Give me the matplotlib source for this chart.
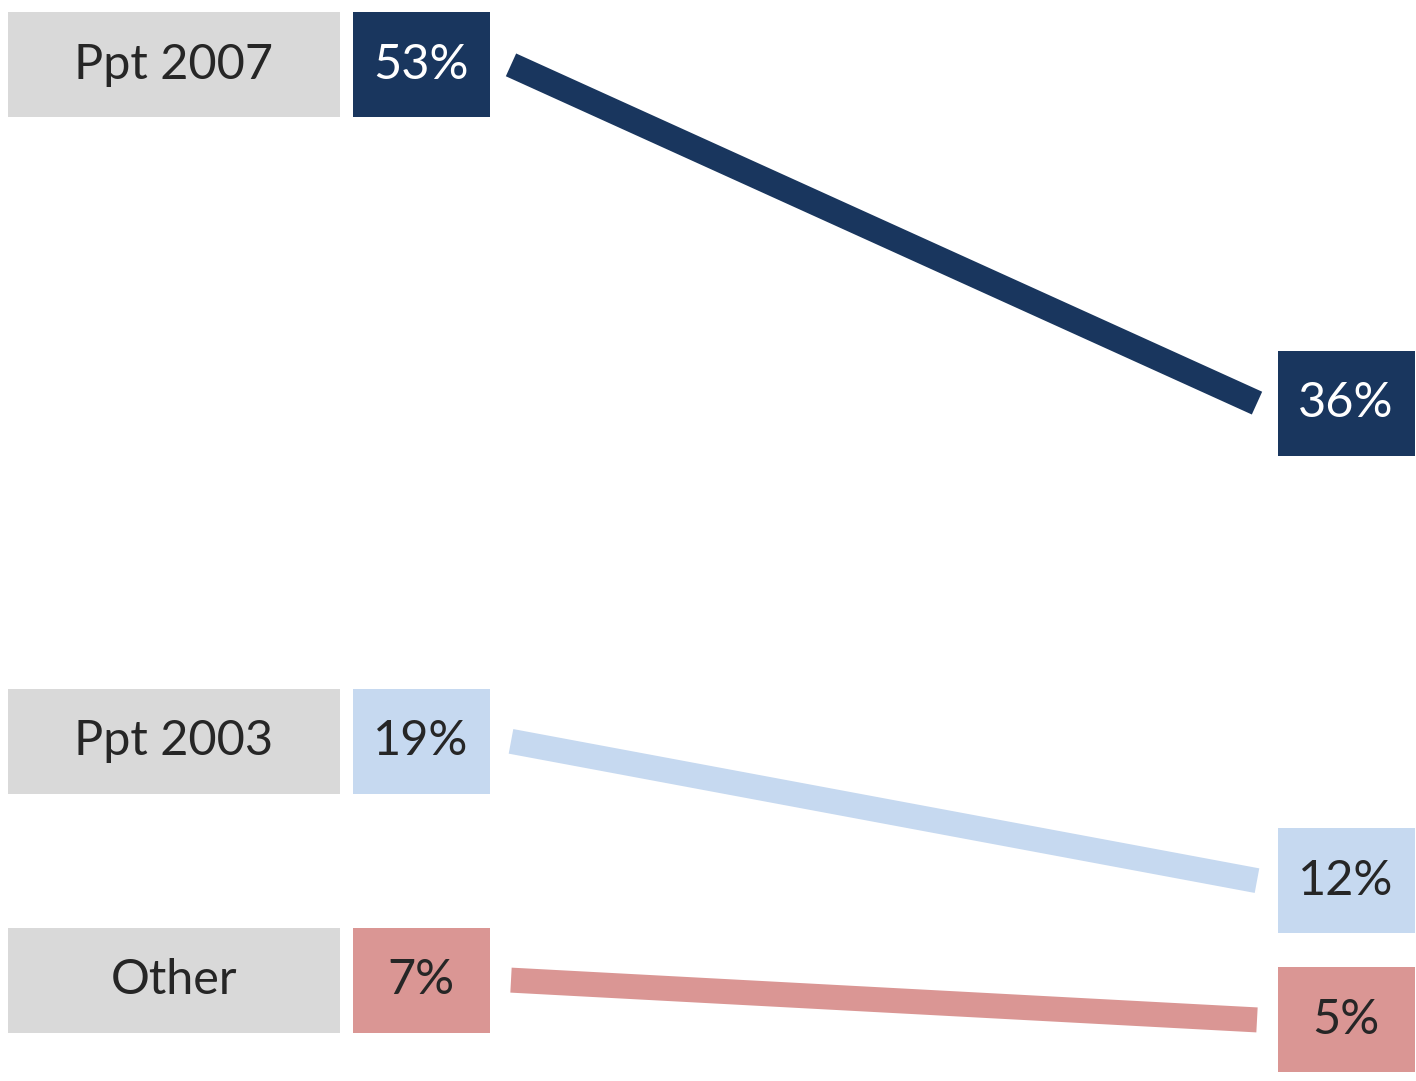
import matplotlib.pyplot as plt
from matplotlib.patches import Rectangle

# データ
categories = ['Ppt 2007', 'Ppt 2003', 'Other']
before = [53, 19, 7]
after = [36, 12, 5]
colors = ['#19365e', '#c6d9f0', '#da9694']
value_text = ['white', '#262626', '#262626']

plt.rcParams['font.family'] = ['Lato', 'DejaVu Sans']

fig = plt.figure(figsize=(14.16, 10.81), dpi=100)
ax = fig.add_axes([0, 0, 1, 1])
ax.set_xlim(0, 1416)
ax.set_ylim(1.93, 56.26)
ax.axis('off')

# 1% あたりのピクセル数 (縦)
px = 1081 / (56.26 - 1.93)
box_h = 105 / px

for name, v0, v1, c, tc in zip(categories, before, after, colors, value_text):
    # ラベル
    ax.add_patch(Rectangle((8, v0 - box_h / 2), 332, box_h, color='#d9d9d9', lw=0))
    ax.text(174, v0, name, ha='center', va='center', fontsize=35, color='#262626')
    # 左の値
    ax.add_patch(Rectangle((353, v0 - box_h / 2), 137, box_h, color=c, lw=0))
    ax.text(421, v0, f'{v0}%', ha='center', va='center', fontsize=35, color=tc)
    # 右の値
    ax.add_patch(Rectangle((1278, v1 - box_h / 2), 137, box_h, color=c, lw=0))
    ax.text(1346, v1, f'{v1}%', ha='center', va='center', fontsize=35, color=tc)
    # 線
    ax.plot([511, 1257], [v0, v1], color=c, lw=18, solid_capstyle='butt')

plt.savefig('out.png', dpi=100)
